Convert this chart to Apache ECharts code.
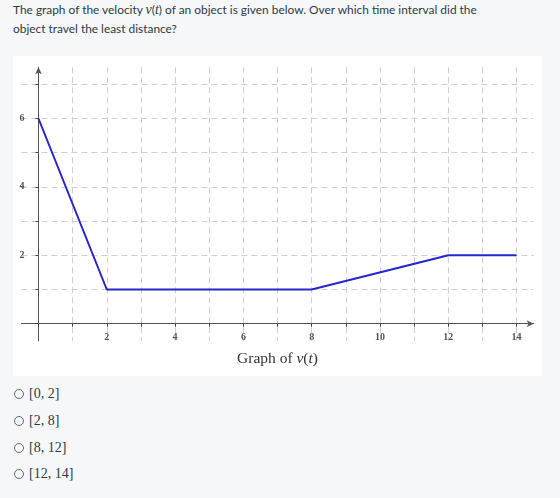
<!DOCTYPE html>
<html>
<head>
<meta charset="utf-8">
<script src="https://cdn.jsdelivr.net/npm/echarts@6/dist/echarts.min.js"></script>
<style>
  body { margin: 0; background: #f6f7f9; width: 560px; height: 498px; position: relative; overflow: hidden; }
  .question { position: absolute; left: 13px; top: 0px; width: 540px; font-family: Lato, "Open Sans", sans-serif; font-size: 11.9px; line-height: 19px; color: #2d3b45; }
  .math { font-family: "Liberation Serif", "DejaVu Serif", serif; font-style: italic; font-size: 14px; }
  .panel { position: absolute; left: 13px; top: 56px; width: 529px; height: 320px; background: #fff; }
  .choice { position: absolute; left: 14px; height: 20px; font-family: "Liberation Serif", serif; font-size: 14px; color: #2d3b45; }
  .choice i { display: inline-block; width: 8px; height: 8px; border: 1.5px solid #666; border-radius: 50%; margin-right: 5px; vertical-align: -1px; }
</style>
</head>
<body>
<div class="question">The graph of the velocity <span class="math">v</span>(<span class="math">t</span>) of an object is given below. Over which time interval did the<br>object travel the least distance?</div>
<div class="panel" id="chart"></div>
<div id="choices"></div>
<script>
  // 数据
  var timeValues = [0, 2, 8, 12, 14];
  var velocityValues = [6, 1, 1, 2, 2];
  var xTickValues = [0, 1, 2, 3, 4, 5, 6, 7, 8, 9, 10, 11, 12, 13, 14];
  var xLabelValues = [2, 4, 6, 8, 10, 12, 14];
  var yTickValues = [0, 1, 2, 3, 4, 5, 6, 7];
  var yLabelValues = [2, 4, 6];
  var choiceLabels = ["[0, 2]", "[2, 8]", "[8, 12]", "[12, 14]"];
  var choiceTops = [386, 413, 440, 466];

  var htmlStr = [];
  for (var i = 0; i < choiceLabels.length; i++) {
    htmlStr.push('<div class="choice" style="top:' + choiceTops[i] + 'px"><i></i>' + choiceLabels[i] + '</div>');
  }
  document.getElementById("choices").innerHTML = htmlStr.join("");

  var points = [];
  for (var k = 0; k < timeValues.length; k++) {
    points.push([timeValues[k], velocityValues[k]]);
  }

  var gridLine = { show: true, lineStyle: { color: '#cfcfcf', type: [6, 4], width: 1 } };
  var axisLine = { show: true, onZero: false, symbol: ['none', 'arrow'], symbolSize: [5, 7], lineStyle: { color: '#555', width: 1 } };
  var labelFont = { fontFamily: 'Liberation Serif', fontSize: 10, fontWeight: 'bold', color: '#555' };

  var chart = echarts.init(document.getElementById('chart'));
  chart.setOption({
    animation: false,
    grid: { left: 8.4, right: 8.3, top: 11.2, bottom: 35.2, outerBoundsMode: 'none' },
    xAxis: {
      type: 'value', min: -0.5, max: 14.5, offset: -17.1,
      axisLine: axisLine,
      axisTick: { show: true, length: 3, customValues: xTickValues, lineStyle: { color: '#444' } },
      axisLabel: Object.assign({ customValues: xLabelValues, margin: 9 }, labelFont),
      splitLine: gridLine
    },
    yAxis: {
      type: 'value', min: -0.5, max: 7.5, offset: -17.1,
      axisLine: axisLine,
      axisTick: { show: true, length: 3, customValues: yTickValues, lineStyle: { color: '#444' } },
      axisLabel: Object.assign({ customValues: yLabelValues, margin: 14 }, labelFont),
      splitLine: gridLine
    },
    graphic: [{
      type: 'text', left: 'center', top: 295,
      style: {
        text: '{n|Graph of }{m|v}{n|(}{m|t}{n|)}',
        rich: {
          n: { fontFamily: 'Liberation Serif', fontSize: 15.5, fill: '#333' },
          m: { fontFamily: 'Liberation Serif', fontStyle: 'italic', fontSize: 15.5, fill: '#333' }
        }
      }
    }],
    series: [{
      type: 'line',
      data: points,
      symbol: 'none',
      lineStyle: { color: '#2626cc', width: 2 }
    }]
  });
</script>
</body>
</html>
